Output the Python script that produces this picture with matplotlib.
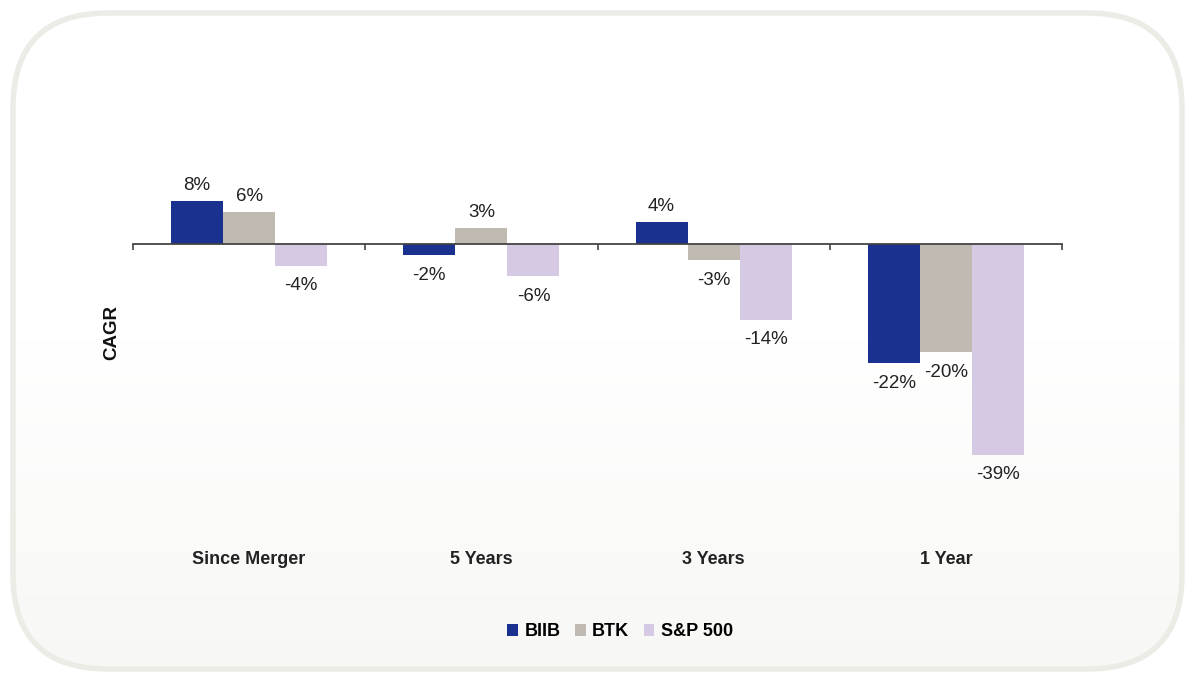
import numpy as np
import matplotlib
matplotlib.use("Agg")
import matplotlib.pyplot as plt
from matplotlib.patches import FancyBboxPatch
from matplotlib.transforms import blended_transform_factory

plt.rcParams['font.family'] = ['Liberation Sans', 'DejaVu Sans']

categories = ['Since Merger', '5 Years', '3 Years', '1 Year']
series = ['BIIB', 'BTK', 'S&P 500']
biib = [8, -2, 4, -22]
btk = [6, 3, -3, -20]
sp500 = [-4, -6, -14, -39]
colors = ['#1b3190', '#c1bab3', '#d6c9e3']

fig = plt.figure(figsize=(11.95, 6.82), dpi=100)
fig.patch.set_facecolor('white')

# rounded panel with soft gradient
bg = fig.add_axes([0, 0, 1, 1])
bg.set_xlim(0, 1195)
bg.set_ylim(682, 0)
bg.axis('off')
grad = np.linspace(0, 1, 256).reshape(-1, 1)
img = bg.imshow(grad, extent=[0, 1195, 682, 0], aspect='auto',
                cmap=matplotlib.colors.LinearSegmentedColormap.from_list('g', ['#ffffff', '#ffffff', '#f7f7f5']),
                zorder=0)
panel = FancyBboxPatch((13, 13), 1169, 656, boxstyle='round,pad=0,rounding_size=95',
                       facecolor='none', edgecolor='#ecece7', linewidth=4, zorder=2)
bg.add_patch(panel)
img.set_clip_path(panel)

ax = fig.add_axes([133 / 1195, 1 - 500 / 682, 929 / 1195, 350 / 682])
ax.patch.set_alpha(0)
x = np.arange(len(categories))
w = 0.224
for i, (vals, name) in enumerate(zip([biib, btk, sp500], series)):
    bars = ax.bar(x + (i - 1) * w, vals, w, color=colors[i], label=name, zorder=3)
    for b, v in zip(bars, vals):
        cx = b.get_x() + b.get_width() / 2
        if v >= 0:
            ax.annotate(f'{v}%', (cx, v), xytext=(0, 5), textcoords='offset points',
                        ha='center', va='bottom', fontsize=13.5, color='#222222')
        else:
            ax.annotate(f'{v}%', (cx, v), xytext=(0, -8.5), textcoords='offset points',
                        ha='center', va='top', fontsize=13.5, color='#222222')

ax.set_xlim(-0.5, 3.5)
ax.set_ylim(-47.4, 17.4)
for s in ['top', 'right', 'left']:
    ax.spines[s].set_visible(False)
ax.spines['bottom'].set_position(('data', 0))
ax.spines['bottom'].set_color('#444444')
ax.spines['bottom'].set_linewidth(1.3)
ax.spines['bottom'].set_zorder(4)
ax.set_yticks([])
ax.set_xticks(np.arange(-0.5, 4, 1))
ax.set_xticklabels([])
ax.tick_params(axis='x', direction='out', length=4, width=1.2, color='#444444')

trans = blended_transform_factory(ax.transData, fig.transFigure)
for xi, c in zip(x, categories):
    ax.text(xi, 1 - 560 / 682, c, transform=trans, ha='center', va='center',
            fontsize=13, fontweight='bold', color='#222222')

fig.text(112 / 1195, 1 - 333 / 682, 'CAGR', rotation=90, ha='center', va='center',
         fontsize=13.5, fontweight='bold', color='#111111')

fig.legend(loc='center', bbox_to_anchor=(620 / 1195, 1 - 632 / 682), ncol=3, frameon=False,
           prop={'weight': 'bold', 'size': 13}, handlelength=0.6, handleheight=0.6,
           handletextpad=0.35, columnspacing=0.8)

fig.savefig('out.png', dpi=100)
